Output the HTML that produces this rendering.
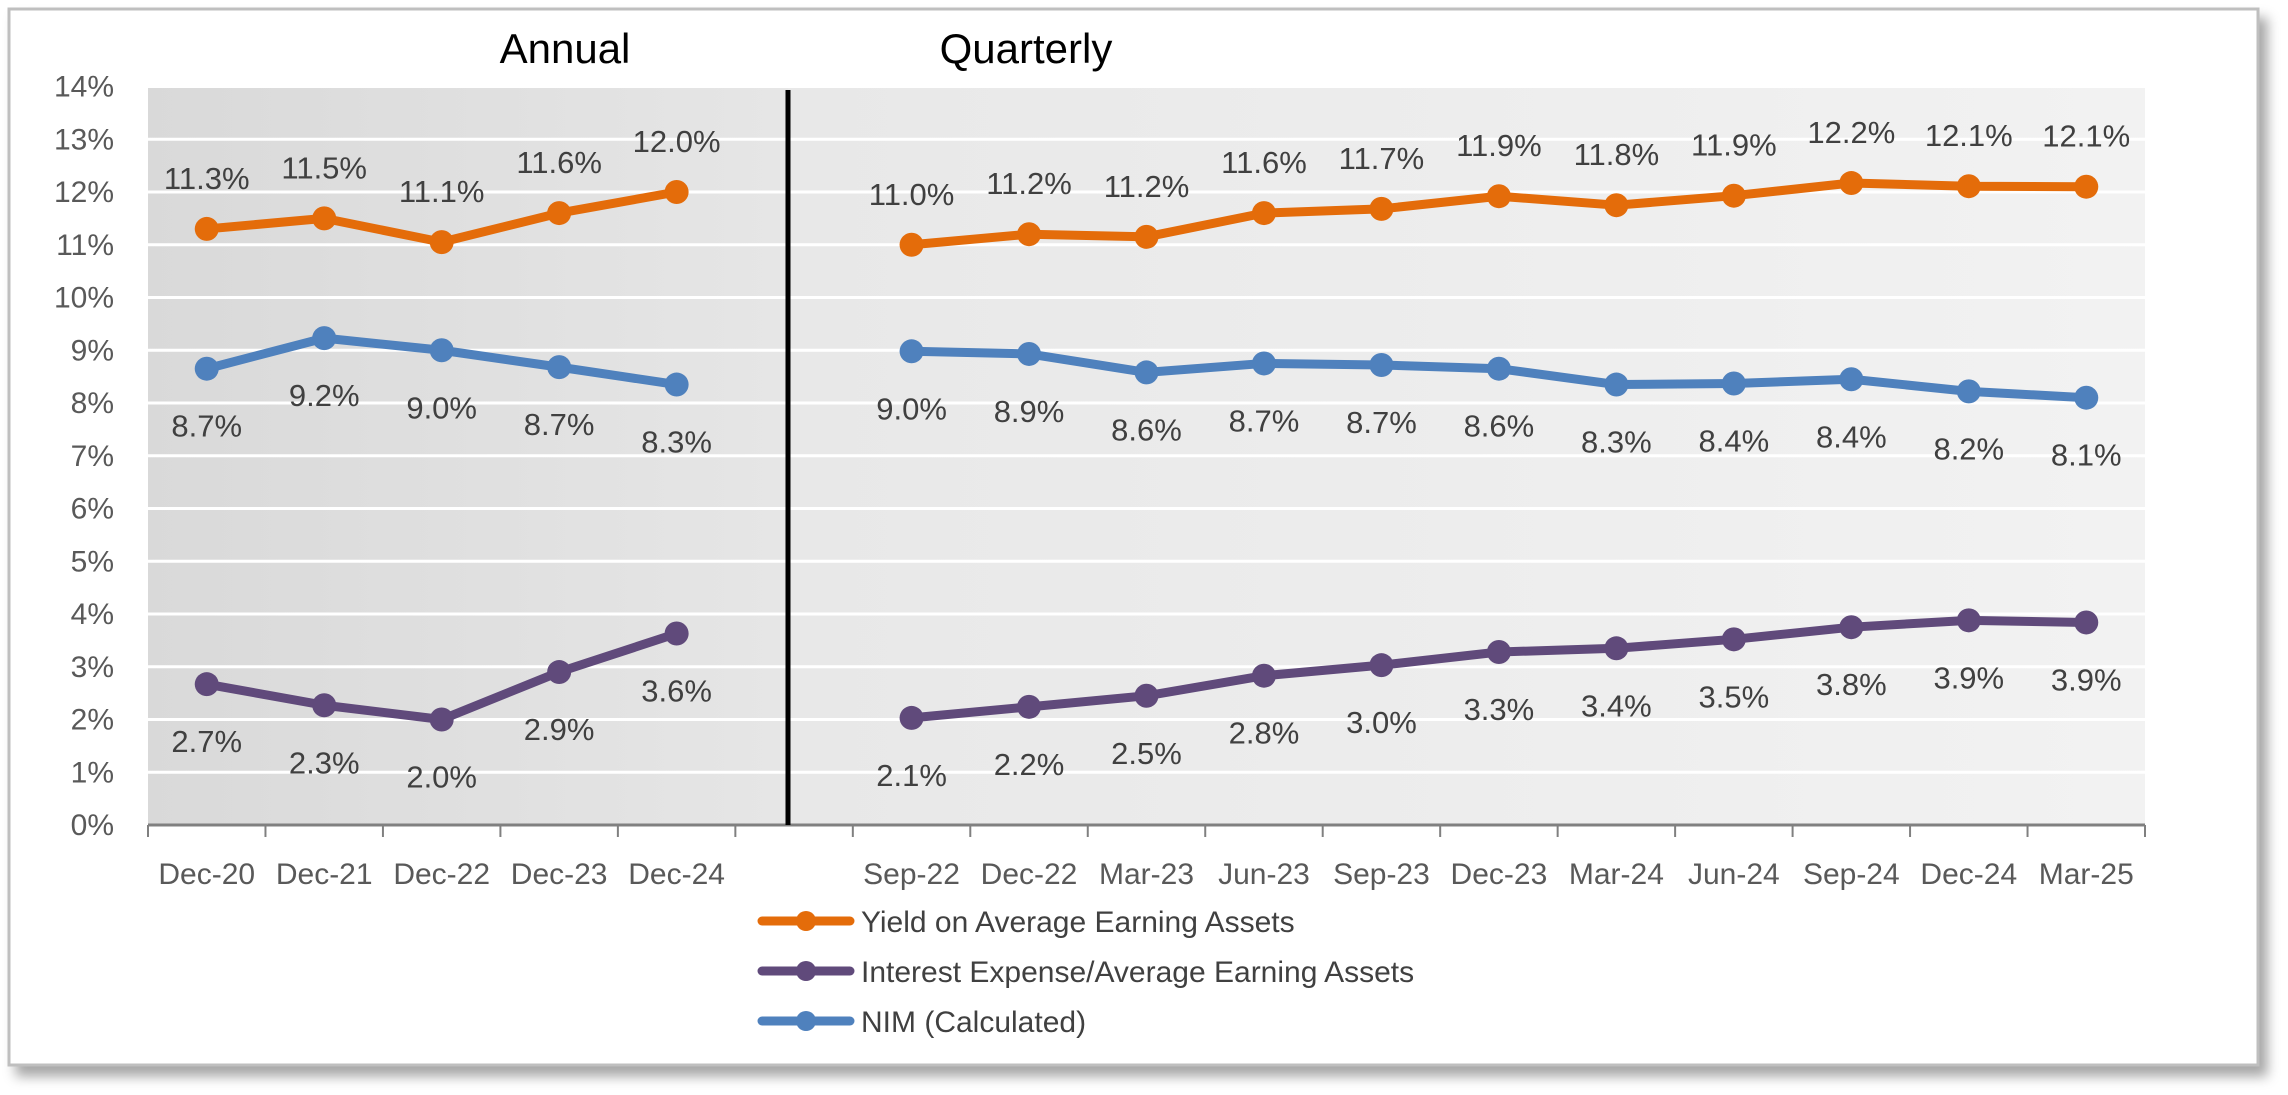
<!DOCTYPE html>
<html><head><meta charset="utf-8">
<style>
html,body{margin:0;padding:0;background:#fff;width:2288px;height:1095px;overflow:hidden}
svg{display:block;font-family:"Liberation Sans",sans-serif}
</style></head>
<body>
<svg id="chart" width="2288" height="1095" viewBox="0 0 2288 1095">
<defs>
<linearGradient id="gA" x1="0" x2="1" y1="0" y2="0"><stop offset="0" stop-color="#d9d9d9"/><stop offset="1" stop-color="#e6e6e6"/></linearGradient>
<linearGradient id="gQ" x1="0" x2="1" y1="0" y2="0"><stop offset="0" stop-color="#e8e8e8"/><stop offset="1" stop-color="#f2f2f2"/></linearGradient>
<filter id="sh" x="-5%" y="-5%" width="110%" height="115%"><feDropShadow dx="8" dy="10" stdDeviation="6" flood-color="#000" flood-opacity="0.35"/></filter>
</defs>
<rect x="9" y="9" width="2249" height="1056" fill="#fff" stroke="#bfbfbf" stroke-width="3" filter="url(#sh)"/>
<rect x="148" y="86.5" width="640" height="738.5" fill="url(#gA)"/>
<rect x="788" y="86.5" width="1357" height="738.5" fill="url(#gQ)"/>
<g id="grid"></g>
<g id="axes"></g>
<line x1="788" y1="90" x2="788" y2="825" stroke="#000" stroke-width="5"/>
<text x="565" y="63" font-size="42" text-anchor="middle" fill="#000">Annual</text>
<text x="1026" y="63" font-size="42" text-anchor="middle" fill="#000">Quarterly</text>
<g id="series"></g>
<g id="legend"></g>
</svg>
<script>
const categories = ["Dec-20","Dec-21","Dec-22","Dec-23","Dec-24","","Sep-22","Dec-22","Mar-23","Jun-23","Sep-23","Dec-23","Mar-24","Jun-24","Sep-24","Dec-24","Mar-25"];
const yieldVals = [11.3,11.5,11.05,11.6,12.0,null,11.0,11.2,11.15,11.6,11.68,11.92,11.75,11.93,12.17,12.11,12.1];
const yieldLabels = ["11.3%","11.5%","11.1%","11.6%","12.0%","","11.0%","11.2%","11.2%","11.6%","11.7%","11.9%","11.8%","11.9%","12.2%","12.1%","12.1%"];
const interestVals = [2.67,2.27,2.0,2.9,3.63,null,2.03,2.24,2.45,2.83,3.03,3.28,3.35,3.52,3.75,3.88,3.84];
const interestLabels = ["2.7%","2.3%","2.0%","2.9%","3.6%","","2.1%","2.2%","2.5%","2.8%","3.0%","3.3%","3.4%","3.5%","3.8%","3.9%","3.9%"];
const nimVals = [8.65,9.23,9.0,8.68,8.35,null,8.98,8.93,8.58,8.75,8.72,8.65,8.35,8.37,8.45,8.22,8.1];
const nimLabels = ["8.7%","9.2%","9.0%","8.7%","8.3%","","9.0%","8.9%","8.6%","8.7%","8.7%","8.6%","8.3%","8.4%","8.4%","8.2%","8.1%"];
const yTicks = [0,1,2,3,4,5,6,7,8,9,10,11,12,13,14];
const yTickLabels = ["0%","1%","2%","3%","4%","5%","6%","7%","8%","9%","10%","11%","12%","13%","14%"];
const seriesNames = ["Yield on Average Earning Assets","Interest Expense/Average Earning Assets","NIM (Calculated)"];

const NS="http://www.w3.org/2000/svg";
const X0=148,X1=2145,Y0=825,YT=86.5,YMAX=14;
const slot=(X1-X0)/categories.length;
const xs=i=>X0+slot*(i+0.5);
const ys=v=>Y0-(v/YMAX)*(Y0-YT);
function mk(tag,attrs,parent){const e=document.createElementNS(NS,tag);for(const k in attrs)e.setAttribute(k,attrs[k]);parent.appendChild(e);return e;}
const grid=document.getElementById('grid'),axes=document.getElementById('axes'),ser=document.getElementById('series'),leg=document.getElementById('legend');
yTicks.forEach((t,i)=>{
  if(t>0){const g=mk('line',{x1:X0,x2:X1,y1:ys(t),y2:ys(t),stroke:'#fff','stroke-width':3},grid);
  
  }
  const tx=mk('text',{x:114,y:ys(t)+10,'font-size':30,'text-anchor':'end',fill:'#595959'},axes);
  tx.textContent=yTickLabels[i];
  
  
});
const ax=mk('line',{x1:X0,x2:X1,y1:Y0,y2:Y0,stroke:'#808080','stroke-width':3},axes);


for(let i=0;i<=categories.length;i++){
  const tk=mk('line',{x1:X0+slot*i,x2:X0+slot*i,y1:Y0,y2:Y0+12,stroke:'#808080','stroke-width':2},axes);
  
  
}
categories.forEach((c,i)=>{if(!c)return;
  const t=mk('text',{x:xs(i),y:884,'font-size':30,'text-anchor':'middle',fill:'#595959'},axes);
  t.textContent=c;
  
  
});
function drawSeries(vals,labels,color,name,off){
  const g=mk('g',{},ser);
  
  
  [[0,5],[6,17]].forEach(([a,b])=>{
    let d='';for(let i=a;i<b;i++)d+=(i===a?'M':'L')+xs(i)+','+ys(vals[i]);
    const p=mk('path',{d:d,fill:'none',stroke:color,'stroke-width':9,'stroke-linejoin':'round'},g);
    
    
  });
  vals.forEach((v,i)=>{if(v===null)return;
    const c=mk('circle',{cx:xs(i),cy:ys(v),r:12,fill:color},g);
    
    
    const t=mk('text',{x:xs(i),y:ys(v)+off+11,'font-size':31,'text-anchor':'middle',fill:'#404040'},g);
    t.textContent=labels[i];
    
    
  });
}
drawSeries(yieldVals,yieldLabels,'#e46c0a','yield',-51);
drawSeries(interestVals,interestLabels,'#604a7b','interest-expense',57);
drawSeries(nimVals,nimLabels,'#4f81bd','nim',57);
const lc=['#e46c0a','#604a7b','#4f81bd'],ly=[921,971,1021];
seriesNames.forEach((n,i)=>{
  const g=mk('g',{},leg);
  
  
  mk('line',{x1:762,x2:850,y1:ly[i],y2:ly[i],stroke:lc[i],'stroke-width':9,'stroke-linecap':'round'},g);
  mk('circle',{cx:806,cy:ly[i],r:10,fill:lc[i]},g);
  const t=mk('text',{x:861,y:ly[i]+11,'font-size':30,fill:'#404040'},g);
  t.textContent=n;
});
</script>
</body></html>
